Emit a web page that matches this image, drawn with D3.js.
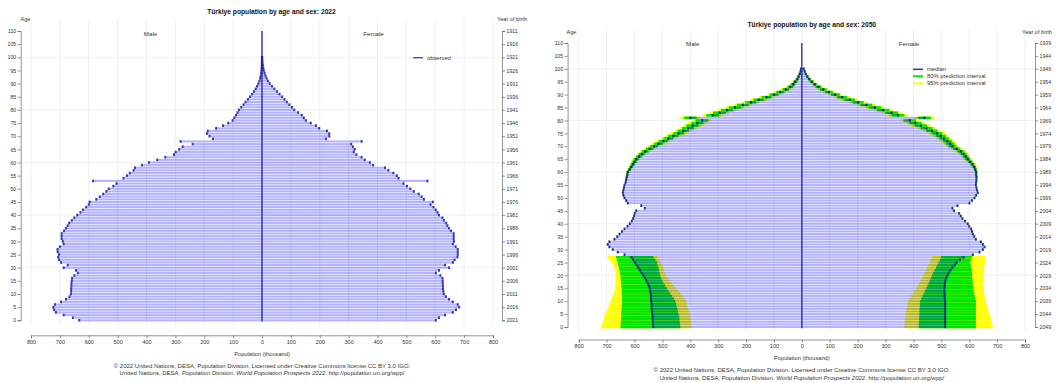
<!DOCTYPE html>
<html><head><meta charset="utf-8">
<script src="https://cdn.jsdelivr.net/npm/d3@7"></script>
<style>
body{margin:0;background:#fff}
svg{display:block;font-family:"Liberation Sans",Arial,sans-serif}
</style></head>
<body><svg id="c" width="1057" height="383"></svg>
<script>
// ---------- data (thousands) ----------
const ages = d3.range(0, 101);
const ageTicks = [0,5,10,15,20,25,30,35,40,45,50,55,60,65,70,75,80,85,90,95,100,105,110];
const popTicks = [-800,-700,-600,-500,-400,-300,-200,-100,0,100,200,300,400,500,600,700,800];
const birthYears2022 = ["2021","2016","2011","2006","2001","1996","1991","1986","1981","1976","1971","1966","1961","1956","1951","1946","1941","1936","1931","1926","1921","1916","1911"];
const birthYears2050 = ["2049","2044","2039","2034","2029","2024","2019","2014","2009","2004","1999","1994","1989","1984","1979","1974","1969","1964","1959","1954","1949","1944","1939"];

const male2022 = [633,655,687,714,720,723,717,696,679,667,
662,661,661,660,660,659,658,650,638,644,
687,673,696,703,706,703,708,708,700,687,
690,694,694,694,686,679,673,668,659,650,
640,629,620,609,600,597,574,562,550,539,
531,515,504,585,480,468,458,445,440,416,
392,363,335,305,299,287,275,240,282,170,
182,191,188,159,135,117,102,96,90,85,
80,72,64,57,49,42,35,28,22,17,
12.5,9,6.5,4.5,3,2,1.4,0.9,0.6,0.4,0.25];
const female2022 = [602,613,634,661,672,683,678,661,648,637,
630,628,627,627,626,626,625,618,602,613,
648,634,661,667,677,678,678,678,671,661,
665,664,664,664,655,648,642,638,630,625,
613,608,602,594,584,592,561,553,543,526,
514,502,490,573,473,467,455,438,426,385,
374,356,345,327,318,321,315,309,345,222,
233,233,225,198,187,169,152,145,138,125,
112,104,95,86,78,70,61,52,43,35,
27,21,16,12,9,6.5,4.5,3,2,1.3,0.8];

const male2050 = [533,534,534,535,535,536,537,538,539,539,
540,541,541,542,544,546,549,553,558,563,
569,575,581,587,593,599,605,611,636,660,
678,690,696,690,672,662,654,645,636,625,
617,610,605,602,599,594,563,576,624,630,
636,640,642,640,638,636,632,630,628,626,
624,618,612,606,600,594,584,574,562,546,
530,514,497,479,461,442,425,408,392,375,
358,400,320,295,268,240,212,183,155,127,
100,78,58,42,32,24,17,12,8,5,3];
const female2050 = [514,514,514,514,514,514,514,514,514,514,
514,513,512,512,511,511,512,513,515,518,
522,527,533,540,548,555,567,580,613,637,
649,655,649,642,624,618,613,610,607,600,
595,585,576,570,564,546,540,558,601,610,
619,625,631,628,626,624,625,626,626,625,
625,622,618,612,604,595,588,580,570,555,
540,532,522,510,498,485,466,447,427,407,
387,440,345,322,292,262,232,202,172,145,
120,97,77,60,47,36,27,20,14,10,7];

// prediction intervals, ages 0-27 (born after 2022)
const male95lo = [395,396,397,399,400,402,404,407,409,412,415,420,427,435,443,452,460,467,474,481,488,491,494,497,501,505,510,515];
const male80lo = [436,437,438,439,440,442,444,446,449,451,454,459,465,472,478,484,490,496,500,504,508,510,512,514,517,519,525,532];
const male80hi = [650,650,649,648,648,647,647,646,646,645,645,645,645,646,646,646,647,648,649,649,650,652,654,656,658,660,663,666];
const male95hi = [718,716,713,710,708,705,701,697,693,689,685,682,678,675,672,670,669,668,667,667,667,668,670,672,676,680,688,697];
const female95lo = [367,368,369,370,371,372,373,375,377,379,381,386,392,398,404,410,415,420,426,431,436,440,444,449,453,457,462,467];
const female80lo = [419,419,420,420,421,421,422,422,423,423,424,428,432,437,441,446,450,455,459,463,467,471,476,481,486,490,495,499];
const female80hi = [624,624,624,624,624,624,624,624,624,624,624,622,620,618,616,615,614,613,612,611,611,610,609,608,606,604,606,610];
const female95hi = [685,683,681,679,676,673,670,667,664,662,660,658,656,654,653,652,652,652,652,652,652,653,653,654,655,655,657,659];
// half-widths of intervals around the median, ages 28-100
const spread80Old = [1,1,1,1,1,1,1,1,1,1,1,1,1,1,1,1,1,1,1,1,1,1,1,1,1,1,1,1,
2,2,3,3,4,5,6,7,8,9,10,11,12,13,14,15,16,17,18,19,20,21,22,22,23,23,23,23,22,22,21,20,19,18,16,14,12,10,8,7,5,4,3,2,1.5];
const spread95Old = [2,2,2,2,2,2,2,2,2,2,2,2,2,2,2,2,2,2,2,2,2,2,2,2,2,2,2,2,
3,3,4,5,7,8,9,11,12,14,15,17,18,20,21,23,24,26,27,29,30,31,33,33,34,35,35,34,33,33,32,30,29,27,24,21,18,15,12,10,8,6,4,3,2];

// ---------- drawing ----------
const svg = d3.select("#c");
const BLUE_BAR = "#0000ff", BAR_OP = 0.3, MARK = "#0000a0";
const TXT = "#333";

function intervals(sexMed, lo95, lo80, hi80, hi95, a) {
  if (a < lo95.length) return [lo95[a], lo80[a], hi80[a], hi95[a]];
  const m = sexMed[a], s8 = spread80Old[a - 28], s9 = spread95Old[a - 28];
  return [m - s9, m - s8, m + s8, m + s9];
}

function panel(cfg) {
  const g = svg.append("g");
  const x = d3.scaleLinear().domain([-800, 800]).range([cfg.xl, cfg.xr]);
  const y = d3.scaleLinear().domain([0, 110]).range([cfg.y0, cfg.y110]);
  const step = Math.abs(y(1) - y(0));

  // grid
  g.append("g").selectAll("line").data(popTicks).join("line")
    .attr("x1", d => x(d)).attr("x2", d => x(d))
    .attr("y1", cfg.gridTop).attr("y2", cfg.gridBot)
    .attr("stroke", "#e6e6e6").attr("stroke-width", 0.6);
  g.append("g").selectAll("line").data([20,40,60,80,100]).join("line")
    .attr("x1", cfg.ageX).attr("x2", cfg.yearX)
    .attr("y1", d => y(d)).attr("y2", d => y(d))
    .attr("stroke", "#e6e6e6").attr("stroke-width", 0.6);

  const rowY = a => y(a + 0.5) + 0.3;
  const rowH = step - 0.6;

  // prediction intervals
  if (cfg.pi) {
    const sides = [
      {sgn: -1, med: cfg.male, lo95: male95lo, lo80: male80lo, hi80: male80hi, hi95: male95hi},
      {sgn: 1, med: cfg.female, lo95: female95lo, lo80: female80lo, hi80: female80hi, hi95: female95hi}
    ];
    sides.forEach(s => {
      const iv = ages.map(a => intervals(s.med, s.lo95, s.lo80, s.hi80, s.hi95, a));
      g.append("g").selectAll("rect").data(ages).join("rect")
        .attr("x", a => Math.min(x(s.sgn * iv[a][0]), x(s.sgn * iv[a][3])))
        .attr("width", a => Math.abs(x(iv[a][3]) - x(iv[a][0])))
        .attr("y", a => y(a + 0.5)).attr("height", step)
        .attr("fill", "#ffff00");
      g.append("g").selectAll("rect").data(ages).join("rect")
        .attr("x", a => Math.min(x(s.sgn * iv[a][1]), x(s.sgn * iv[a][2])))
        .attr("width", a => Math.abs(x(iv[a][2]) - x(iv[a][1])))
        .attr("y", a => y(a + 0.5)).attr("height", step)
        .attr("fill", "#00e600");
    });
  }

  // bars
  [[cfg.male, -1], [cfg.female, 1]].forEach(([vals, sgn]) => {
    g.append("g").selectAll("rect").data(ages).join("rect")
      .attr("x", a => Math.min(x(0), x(sgn * vals[a])))
      .attr("width", a => Math.abs(x(sgn * vals[a]) - x(0)))
      .attr("y", rowY).attr("height", rowH)
      .attr("fill", BLUE_BAR).attr("fill-opacity", BAR_OP);
    g.append("g").selectAll("rect").data(ages).join("rect")
      .attr("x", a => x(sgn * vals[a]) - 1)
      .attr("width", 2)
      .attr("y", a => y(a + 0.5)).attr("height", step)
      .attr("fill", MARK).attr("fill-opacity", 0.75);
  });

  // centre line
  g.append("line").attr("x1", x(0)).attr("x2", x(0))
    .attr("y1", y(110)).attr("y2", y(-0.5))
    .attr("stroke", "#22229a").attr("stroke-width", 1.3);

  // x axis
  const xa = g.append("g").attr("transform", `translate(0,${cfg.xAxisY})`)
    .call(d3.axisBottom(x).tickValues(popTicks).tickFormat(d => Math.abs(d)).tickSize(3).tickPadding(2));
  xa.select(".domain").attr("stroke", "#666").attr("stroke-width", 0.7);
  xa.selectAll(".tick line").attr("stroke", "#666").attr("stroke-width", 0.7);
  xa.selectAll("text").attr("font-size", 5.5).attr("fill", TXT).attr("font-family", "Liberation Sans, Arial, sans-serif");

  // age axis
  const ya = g.append("g").attr("transform", `translate(${cfg.ageX},0)`)
    .call(d3.axisLeft(y).tickValues(ageTicks).tickSize(3).tickPadding(1.5));
  ya.select(".domain").attr("stroke", "#666").attr("stroke-width", 0.7);
  ya.selectAll(".tick line").attr("stroke", "#666").attr("stroke-width", 0.7);
  ya.selectAll("text").attr("font-size", 5.2).attr("fill", TXT).attr("font-family", "Liberation Sans, Arial, sans-serif");

  // birth year axis
  const yb = g.append("g").attr("transform", `translate(${cfg.yearX},0)`)
    .call(d3.axisRight(y).tickValues(ageTicks).tickFormat((d, i) => cfg.years[i]).tickSize(3).tickPadding(1.5));
  yb.select(".domain").attr("stroke", "#666").attr("stroke-width", 0.7);
  yb.selectAll(".tick line").attr("stroke", "#666").attr("stroke-width", 0.7);
  yb.selectAll("text").attr("font-size", 5.2).attr("fill", TXT).attr("font-family", "Liberation Sans, Arial, sans-serif");

  // texts
  const t = (px, py, s, o = {}) => g.append("text").attr("x", px).attr("y", py)
    .attr("text-anchor", o.anchor || "middle").attr("font-size", o.size || 6)
    .attr("font-weight", o.bold ? "bold" : null).attr("font-style", o.italic ? "italic" : null)
    .attr("fill", o.fill || TXT).text(s);
  t(cfg.titleX, cfg.titleY, cfg.title, {size: 6.7, bold: true, fill: "#111"});
  t(cfg.ageLabX, cfg.ageLabY, "Age", {anchor: "start", size: 5.6});
  t(cfg.yobX, cfg.ageLabY, "Year of birth", {anchor: "start", size: 5.6});
  t(cfg.maleX, cfg.sexY, "Male", {size: 6.2});
  t(cfg.femaleX, cfg.sexY, "Female", {size: 6.2});
  t(x(0), cfg.xTitleY, "Population (thousand)", {size: 5.7});
  t(x(0), cfg.foot1Y, cfg.foot1, {size: 6});
  const f2 = g.append("text").attr("x", x(0)).attr("y", cfg.foot2Y)
    .attr("text-anchor", "middle").attr("font-size", 6).attr("fill", TXT);
  f2.append("tspan").text("United Nations, DESA, Population Division. ");
  f2.append("tspan").attr("font-style", "italic").text("World Population Prospects 2022");
  f2.append("tspan").text(". http://population.un.org/wpp/");

  // legend
  cfg.legend.forEach((L, i) => {
    const ly = cfg.legY + i * cfg.legStep;
    g.append("line").attr("x1", cfg.legX).attr("x2", cfg.legX + 10)
      .attr("y1", ly).attr("y2", ly).attr("stroke", L.color).attr("stroke-width", L.w);
    t(cfg.legX + 14, ly + 2, L.label, {anchor: "start", size: 5.8});
  });
}

panel({
  xl: 31, xr: 493, y0: 320.3, y110: 31, ageX: 20.7, yearX: 502,
  gridTop: 18, gridBot: 326, xAxisY: 335.3,
  male: male2022, female: female2022, pi: false, years: birthYears2022,
  title: "Türkiye population by age and sex: 2022", titleX: 271.5, titleY: 14.3,
  ageLabX: 20.5, ageLabY: 21, yobX: 497, maleX: 150.5, femaleX: 373.5, sexY: 36,
  xTitleY: 355.8, foot1Y: 367.6, foot2Y: 375.4,
  foot1: "© 2022 United Nations, DESA, Population Division. Licensed under Creative Commons license CC BY 3.0 IGO.",
  legend: [{label: "observed", color: "#4a4ae6", w: 1.4}], legX: 413, legY: 57.7, legStep: 7
});

panel({
  xl: 578.7, xr: 1025, y0: 327, y110: 43, ageX: 567.6, yearX: 1035,
  gridTop: 30, gridBot: 332, xAxisY: 339.5,
  male: male2050, female: female2050, pi: true, years: birthYears2050,
  title: "Türkiye population by age and sex: 2050", titleX: 811.8, titleY: 26.6,
  ageLabX: 566.5, ageLabY: 34, yobX: 1022, maleX: 692.7, femaleX: 909, sexY: 46,
  xTitleY: 360, foot1Y: 372, foot2Y: 379.6,
  foot1: "© 2022 United Nations, DESA, Population Division. Licensed under Creative Commons license CC BY 3.0 IGO.",
  legend: [{label: "median", color: "#3030c0", w: 1.4}, {label: "80% prediction interval", color: "#00e600", w: 2}, {label: "95% prediction interval", color: "#ffff00", w: 2}],
  legX: 913, legY: 69.3, legStep: 7
});
</script></body></html>
